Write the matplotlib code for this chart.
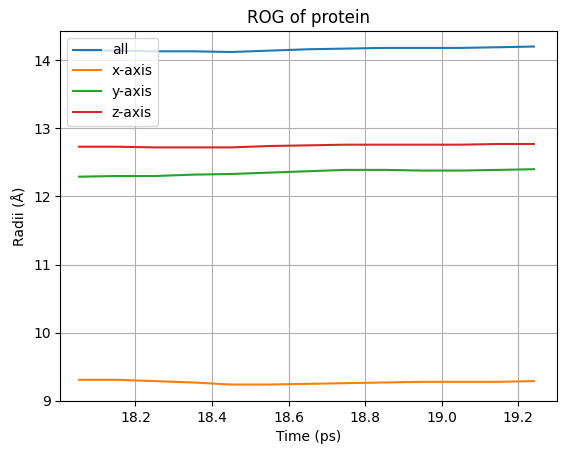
import matplotlib
matplotlib.use("Agg")
import matplotlib.pyplot as plt

time = [18.053, 18.15, 18.25, 18.35, 18.45, 18.55, 18.65, 18.75, 18.85, 18.95, 19.05, 19.15, 19.241]
r_all = [14.14, 14.14, 14.13, 14.13, 14.12, 14.14, 14.16, 14.17, 14.18, 14.18, 14.18, 14.19, 14.20]
r_x = [9.31, 9.31, 9.29, 9.27, 9.24, 9.24, 9.25, 9.26, 9.27, 9.28, 9.28, 9.28, 9.29]
r_y = [12.29, 12.30, 12.30, 12.32, 12.33, 12.35, 12.37, 12.39, 12.39, 12.38, 12.38, 12.39, 12.40]
r_z = [12.73, 12.73, 12.72, 12.72, 12.72, 12.74, 12.75, 12.76, 12.76, 12.76, 12.76, 12.77, 12.77]

fig = plt.figure(figsize=(5.65, 4.54), dpi=100)
ax = fig.add_axes([0.107, 0.117, 0.878, 0.815])
ax.plot(time, r_all, label="all")
ax.plot(time, r_x, label="x-axis")
ax.plot(time, r_y, label="y-axis")
ax.plot(time, r_z, label="z-axis")
ax.set_xlim(18.004, 19.30)
ax.set_ylim(9.0, 14.43)
ax.set_title("ROG of protein")
ax.set_xlabel("Time (ps)")
ax.set_ylabel("Radii (Å)")
ax.grid(True)
ax.legend(loc="upper left")
fig.savefig("out.png", dpi=100)
